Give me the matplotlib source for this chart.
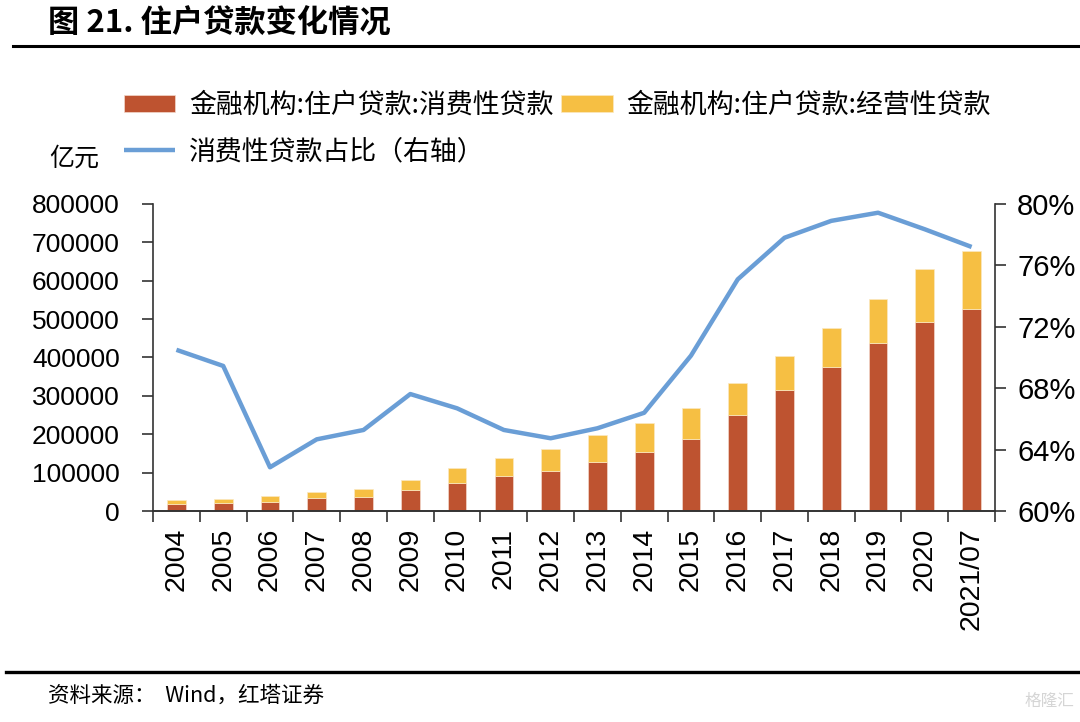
import matplotlib
matplotlib.use("Agg")
import matplotlib.pyplot as plt
import numpy as np
from matplotlib.lines import Line2D
from matplotlib.ticker import FixedLocator

plt.rcParams['font.family'] = ['Liberation Sans', 'Noto Sans CJK SC', 'DejaVu Sans']
cjk = ['Noto Sans CJK SC', 'DejaVu Sans']

years = ['2004', '2005', '2006', '2007', '2008', '2009', '2010', '2011', '2012',
         '2013', '2014', '2015', '2016', '2017', '2018', '2019', '2020', '2021/07']
# 消费性贷款 (亿元)
consumer = [19000, 21700, 23500, 33000, 36500, 55600, 74000, 90400, 103500,
            127700, 153000, 188600, 250000, 314500, 375300, 437000, 493500, 525600]
# 经营性贷款 (亿元)
business = [9000, 9600, 15500, 16500, 20800, 26200, 38000, 46600, 57200,
            69300, 77000, 80800, 82700, 89500, 101700, 114700, 136500, 153000]
# 消费性贷款占比 (%)
share = [70.5, 69.45, 62.85, 64.67, 65.28, 67.62, 66.69, 65.28, 64.74,
         65.39, 66.4, 70.12, 75.09, 77.8, 78.9, 79.43, 78.35, 77.2]

red = '#BE5330'
yellow = '#F6BF43'
blue = '#6A9ED6'

fig = plt.figure(figsize=(10.8, 7.22), dpi=100)
ax = fig.add_axes([0.1417, 0.2922, 0.9213 - 0.1417, 0.7175 - 0.2922])
ax2 = ax.twinx()

x = np.arange(len(years))
b1 = ax.bar(x, consumer, width=0.4, color=red, edgecolor='#f3d8cc', linewidth=0.5, zorder=2)
b2 = ax.bar(x, business, width=0.4, bottom=consumer, color=yellow, edgecolor='#fbe9c2',
            linewidth=0.5, zorder=2)
l1, = ax2.plot(x, share, color=blue, lw=3.2, solid_capstyle='butt', zorder=3)

ax.set_xlim(-0.5, len(years) - 0.5)
ax.set_ylim(0, 800000)
ax.set_yticks(np.arange(0, 800001, 100000))
ax.set_yticklabels([str(v) for v in range(0, 800001, 100000)], fontsize=19)
ax.set_xticks(x)
ax.set_xticklabels(years, rotation=90, fontsize=20.5)
ax.xaxis.set_minor_locator(FixedLocator(np.arange(-0.5, len(years), 1.0)))
ax.tick_params(axis='x', which='major', length=0, pad=12)
ax.tick_params(axis='x', which='minor', length=8, width=1.2, color='#333333')
ax.tick_params(axis='y', length=8, width=1.2, color='#333333', pad=16)

ax2.set_ylim(60, 80)
ax2.set_yticks(np.arange(60, 81, 4))
ax2.set_yticklabels(['%d%%' % v for v in range(60, 81, 4)], fontsize=21)
ax2.tick_params(axis='y', length=8, width=1.2, color='#333333', pad=8)

for a in (ax, ax2):
    a.spines['top'].set_visible(False)
    for s in ('left', 'right', 'bottom'):
        a.spines[s].set_color('#333333')
        a.spines[s].set_linewidth(1.2)
ax.spines['right'].set_visible(False)
ax2.spines['left'].set_visible(False)

handles = [b1, l1, b2]
labels = ['金融机构:住户贷款:消费性贷款', '消费性贷款占比（右轴）', '金融机构:住户贷款:经营性贷款']
leg = fig.legend(handles, labels, ncol=2, loc='upper left', bbox_to_anchor=(0.115, 0.873),
                 frameon=False, prop={'family': cjk, 'size': 19.4}, handlelength=1.9,
                 handleheight=0.6, handletextpad=0.5, columnspacing=0.3, labelspacing=0.72,
                 borderaxespad=0, borderpad=0)

fig.text(0.046, 0.78, '亿元', fontsize=18, family=cjk, va='center', ha='left')

fig.text(0.044, 0.968, '图 21. 住户贷款变化情况', fontsize=22.5, fontweight='bold', family=cjk,
         va='center', ha='left')
fig.add_artist(Line2D([0.012, 1.0], [0.936, 0.936], color='black', lw=2.2))
fig.add_artist(Line2D([0.006, 1.0], [0.069, 0.069], color='black', lw=2.4))
fig.text(0.044, 0.036, '资料来源：  Wind，红塔证券', fontsize=15.5, family=cjk, va='center', ha='left')
fig.text(0.995, 0.028, '格隆汇', fontsize=12, family=cjk, color='#d5d5d5', va='center', ha='right')

fig.savefig('out.png', dpi=100)
